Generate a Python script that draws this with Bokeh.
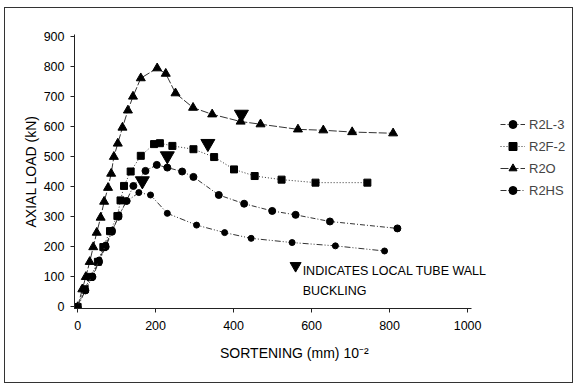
from bokeh.plotting import figure
from bokeh.models import Legend, LegendItem, Label, Range1d, FixedTicker
from bokeh.embed import file_html
from bokeh.resources import INLINE

# ---- data ----
r2l3_x = [0, 20, 38, 55, 72, 88, 105, 125, 143, 174, 203, 230, 268, 297, 362, 427, 499, 559, 647, 820]
r2l3_y = [0, 55, 100, 150, 200, 250, 300, 352, 402, 452, 472, 463, 450, 432, 372, 343, 319, 306, 284, 261]

r2f2_x = [0, 18, 33, 52, 66, 83, 102, 110, 119, 136, 162, 196, 211, 243, 297, 350, 401, 454, 523, 610, 743]
r2f2_y = [0, 59, 100, 150, 199, 252, 302, 354, 402, 450, 502, 541, 544, 535, 524, 498, 457, 435, 423, 413, 413]

r2o_x = [0, 12, 21, 31, 40, 49, 59, 68, 78, 86, 93, 103, 115, 129, 142, 162, 204, 226, 251, 296, 345, 418, 469, 565, 630, 704, 809]
r2o_y = [0, 59, 100, 150, 199, 247, 297, 350, 396, 443, 499, 543, 596, 653, 699, 760, 793, 775, 710, 662, 640, 616, 607, 590, 587, 581, 577]

r2hs_x = [0, 16, 38, 55, 72, 89, 106, 127, 157, 187, 230, 305, 377, 445, 550, 661, 787]
r2hs_y = [0, 59, 103, 156, 206, 255, 306, 352, 380, 372, 311, 272, 247, 228, 214, 203, 186]

# local tube wall buckling points
buck_x = [166, 230, 334, 420]
buck_y = [419, 502, 543, 640]

x_ticks = [0, 200, 400, 600, 800, 1000]
y_ticks = [0, 100, 200, 300, 400, 500, 600, 700, 800, 900]

FONT = "Liberation Sans"

p = figure(width=567, height=374, output_backend="svg", toolbar_location=None,
           x_range=Range1d(-8, 1269), y_range=Range1d(-5, 905),
           min_border_left=69, min_border_right=0, min_border_top=26, min_border_bottom=74)
p.margin = (8, 1, 2, 5)
p.styles = {"outline": "1px solid #333333"}

p.xgrid.visible = False
p.ygrid.visible = False
p.outline_line_color = None
p.background_fill_color = "white"
p.border_fill_color = "white"

for ax in (p.xaxis[0], p.yaxis[0]):
    ax.axis_line_color = "#222222"
    ax.major_tick_line_color = "#222222"
    ax.minor_tick_line_color = None
    ax.major_tick_out = 4
    ax.major_tick_in = 0
    ax.major_label_text_font = FONT
    ax.major_label_text_font_size = "12.5px"
    ax.major_label_text_color = "black"
    ax.axis_label_text_font = FONT
    ax.axis_label_text_font_size = "14px"
    ax.axis_label_text_font_style = "normal"
    ax.axis_label_text_color = "black"

p.xaxis.ticker = FixedTicker(ticks=x_ticks)
p.yaxis.ticker = FixedTicker(ticks=y_ticks)
p.xaxis.bounds = (-8, 1010)
# trailing no-break spaces shift the centred label towards the left like the original
p.xaxis.axis_label = "SORTENING (mm) 10\u207b\u00b2" + "\u00a0" * 15
p.yaxis.axis_label = "AXIAL LOAD (kN)"
p.xaxis.major_label_standoff = 8
p.xaxis.axis_label_standoff = 12
p.yaxis.major_label_standoff = 6
p.yaxis.axis_label_standoff = 2

LC = "#333333"
l1 = p.line(r2l3_x, r2l3_y, line_color=LC, line_width=1, line_dash="5 2 1 2")
m1 = p.scatter(r2l3_x, r2l3_y, marker="circle", size=7, color="black")
l2 = p.line(r2f2_x, r2f2_y, line_color=LC, line_width=1, line_dash="1 2")
m2 = p.scatter(r2f2_x, r2f2_y, marker="square", size=7, color="black")
l3 = p.line(r2o_x, r2o_y, line_color=LC, line_width=1, line_dash="8 2")
m3 = p.scatter(r2o_x, r2o_y, marker="triangle", size=9, color="black")
l4 = p.line(r2hs_x, r2hs_y, line_color=LC, line_width=1, line_dash="6 2 1 2 1 2")
m4 = p.scatter(r2hs_x, r2hs_y, marker="circle", size=6, color="black")

p.scatter(buck_x, buck_y, marker="inverted_triangle", size=14, color="black")
p.scatter([559], [137], marker="inverted_triangle", size=11, color="black")

p.add_layout(Label(x=577, y=120, text="INDICATES LOCAL TUBE WALL", text_font=FONT,
                   text_font_size="12.5px", text_baseline="middle", text_color="black"))
p.add_layout(Label(x=577, y=53, text="BUCKLING", text_font=FONT,
                   text_font_size="12.5px", text_baseline="middle", text_color="black"))

legend = Legend(items=[
    LegendItem(label="R2L-3", renderers=[l1, m1]),
    LegendItem(label="R2F-2", renderers=[l2, m2]),
    LegendItem(label="R2O", renderers=[l3, m3]),
    LegendItem(label="R2HS", renderers=[l4, m4]),
], location=(426, 108))
legend.border_line_alpha = 0
legend.background_fill_alpha = 0
legend.glyph_width = 25
legend.glyph_height = 20
legend.label_height = 20
legend.spacing = 2
legend.padding = 0
legend.margin = 0
legend.label_standoff = 4
legend.label_text_font = FONT
legend.label_text_font_size = "13px"
p.add_layout(legend)

open("out.html", "w").write(file_html(p, INLINE))
